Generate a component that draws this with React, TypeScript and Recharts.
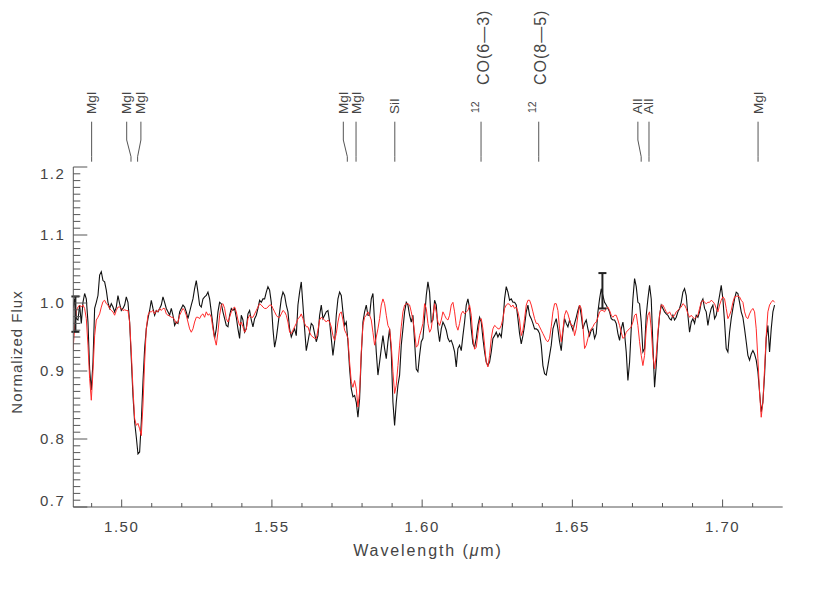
import React from 'react';
import { ComposedChart, Line, XAxis, YAxis, Scatter, ErrorBar, ReferenceLine } from 'recharts';

// Spectrum sampling grid (microns)
const WL_START = 1.48379;
const WL_STEP = 0.00055463;

// Observed normalized flux (black)
const observedFlux = [
  0.992,1.006,0.977,0.975,0.997,0.970,1.001,1.014,1.006,0.972,
  0.903,0.872,0.913,0.992,1.001,1.011,1.041,1.046,1.033,1.031,
  1.019,1.001,0.992,0.999,0.994,0.987,0.994,1.011,0.999,0.989,
  0.992,0.997,1.009,1.001,0.972,0.918,0.864,0.825,0.803,0.778,
  0.781,0.825,0.884,0.933,0.962,0.977,0.989,1.004,0.992,0.982,
  0.989,0.987,0.992,0.997,1.009,1.001,0.992,0.987,0.982,0.992,
  0.982,0.967,0.972,0.970,0.987,0.992,0.997,0.994,0.987,0.977,
  0.987,0.997,1.006,1.021,1.033,1.016,0.997,0.994,1.006,1.009,
  1.011,1.016,1.006,0.987,0.967,0.948,0.962,0.987,1.001,0.999,
  0.987,0.977,0.967,0.965,0.982,0.992,0.989,0.992,0.979,0.962,
  0.948,0.982,0.975,0.957,0.962,0.984,0.989,0.975,0.965,0.977,
  0.982,0.992,1.004,1.001,1.006,1.006,1.016,1.024,1.019,1.001,
  0.962,0.935,0.948,0.967,0.987,1.006,1.016,1.011,0.997,0.987,
  0.962,0.950,0.957,0.962,0.952,0.997,1.016,1.031,0.997,0.962,
  0.930,0.943,0.957,0.970,0.967,0.955,0.943,0.952,0.982,0.997,
  0.977,0.982,0.987,0.989,0.972,0.948,0.923,0.943,0.982,1.006,
  1.016,1.011,0.987,0.967,0.972,0.943,0.903,0.874,0.862,0.864,
  0.854,0.832,0.859,0.923,0.972,0.987,0.997,0.982,0.982,1.006,
  1.014,0.972,0.928,0.894,0.913,0.933,0.952,0.933,0.918,0.943,
  0.962,0.928,0.854,0.820,0.854,0.879,0.894,0.938,0.962,0.987,
  1.001,0.997,0.982,0.972,0.982,0.943,0.903,0.899,0.923,0.943,
  0.948,
  0.979,1.011,1.031,1.016,0.972,0.975,1.004,0.997,0.962,0.943,
  0.962,0.972,0.967,0.960,0.948,0.943,0.945,0.938,0.928,0.906,
  0.933,0.938,0.930,0.952,0.972,0.997,1.006,0.992,0.962,0.940,
  0.935,0.948,0.967,0.979,0.972,0.948,0.928,0.913,0.908,0.913,
  0.928,0.948,0.952,0.957,0.950,0.955,0.950,0.972,1.006,1.024,
  1.016,1.004,1.006,1.001,1.001,0.997,0.977,0.955,0.940,0.952,
  0.967,0.987,0.997,0.982,0.977,0.970,0.962,0.962,0.960,0.955,
  0.938,0.908,0.896,0.894,0.908,0.923,0.938,0.962,0.970,0.977,
  0.962,0.943,0.930,0.957,0.977,0.970,0.965,0.975,0.967,0.960,
  0.970,0.979,0.989,0.997,0.982,0.962,0.970,0.975,0.962,0.952,
  0.960,0.962,0.948,0.955,0.987,1.006,1.021,1.011,1.001,0.997,
  0.992,0.987,0.977,0.975,0.975,0.970,0.955,0.945,0.962,0.972,
  0.955,0.928,0.886,0.913,0.962,1.006,1.036,1.024,1.001,0.999,
  0.972,0.928,0.933,0.982,1.006,1.026,1.006,0.938,0.876,0.908,
  0.952,0.982,0.997,0.992,0.987,0.984,0.982,0.977,0.975,0.982,
  0.975,0.979,0.987,0.992,1.001,1.016,1.021,1.011,0.982,0.957,
  0.972,0.977,0.970,0.982,0.979,0.987,1.001,1.006,0.992,0.987,
  0.967,0.982,0.992,0.997,0.977,0.982,0.997,1.011,1.026,1.006,
  0.972,0.933,0.928,0.957,0.977,0.992,1.006,1.016,1.014,1.001,
  0.987,0.979,0.962,0.943,0.923,0.916,0.925,0.930,0.925,0.916,
  0.899,0.869,0.840,0.854,0.894,0.948,0.967,0.928,0.962,0.987,
  0.997,
];

// Model normalized flux (red)
const modelFlux = [
  0.931,0.962,0.989,0.994,0.997,0.994,0.997,0.992,0.977,0.938,
  0.889,0.857,0.899,0.952,0.975,0.979,0.984,0.994,1.002,1.004,
  0.999,0.997,0.992,0.989,0.987,0.982,0.989,0.994,0.994,0.992,
  0.989,0.990,0.989,0.989,0.972,0.928,0.874,0.830,0.820,0.823,
  0.815,0.805,0.850,0.913,0.962,0.982,0.987,0.987,0.989,0.984,
  0.989,0.987,0.992,0.989,0.992,0.992,0.984,0.982,0.981,0.979,
  0.979,0.975,0.970,0.972,0.982,0.987,0.992,0.989,0.982,0.972,
  0.962,0.957,0.962,0.972,0.979,0.979,0.977,0.982,0.984,0.979,
  0.987,0.982,0.984,0.979,0.962,0.948,0.938,0.957,0.982,0.997,
  0.999,0.992,0.977,0.972,0.979,0.987,0.992,0.994,0.987,0.975,
  0.967,0.972,0.965,0.957,0.962,0.977,0.982,0.979,0.979,0.984,
  0.989,0.994,0.999,0.997,0.994,0.992,0.992,0.994,0.997,0.997,
  0.992,0.987,0.982,0.979,0.979,0.984,0.989,0.987,0.982,0.972,
  0.957,0.955,0.960,0.965,0.970,0.977,0.979,0.984,0.977,0.970,
  0.965,0.965,0.957,0.952,0.950,0.948,0.948,0.960,0.975,0.979,
  0.977,0.975,0.972,0.975,0.972,0.965,0.952,0.945,0.955,0.972,
  0.984,0.987,0.975,0.960,0.955,0.948,0.913,0.884,0.876,0.886,
  0.874,0.847,0.869,0.928,0.967,0.979,0.982,0.987,0.982,0.975,
  0.957,0.938,0.950,0.962,0.977,0.997,1.006,0.999,0.982,0.967,
  0.962,0.938,0.899,0.867,0.879,0.908,0.938,0.965,0.987,0.997,
  0.999,0.999,0.997,0.987,0.975,0.957,0.935,0.938,0.952,0.960,
  0.970,
  0.999,0.992,0.970,0.957,0.962,0.982,0.999,0.987,0.972,0.967,
  0.975,0.987,0.982,0.977,0.975,0.982,0.997,1.001,0.987,0.967,
  0.960,0.970,0.984,0.988,0.984,0.987,0.989,0.997,0.982,0.948,
  0.932,0.935,0.955,0.975,0.977,0.962,0.938,0.913,0.906,0.923,
  0.948,0.962,0.967,0.965,0.962,0.962,0.967,0.977,0.992,0.997,
  0.999,0.998,0.994,0.997,0.992,0.994,0.987,0.975,0.952,0.960,
  0.977,0.997,1.004,1.004,0.997,0.987,0.977,0.970,0.970,0.965,
  0.960,0.955,0.950,0.945,0.943,0.948,0.965,0.987,0.999,0.999,
  0.989,0.962,0.943,0.960,0.982,0.989,0.984,0.975,0.967,0.967,
  0.952,0.962,0.982,0.997,0.992,0.967,0.933,0.938,0.948,0.957,
  0.962,0.965,0.970,0.972,0.979,0.987,0.989,0.989,0.987,0.992,
  0.994,0.989,0.982,0.979,0.982,0.982,0.975,0.967,0.957,0.948,
  0.950,0.957,0.960,0.962,0.965,0.972,0.982,0.984,0.967,0.943,
  0.923,0.908,0.923,0.962,0.982,0.987,0.962,0.923,0.903,0.923,
  0.957,0.982,0.997,0.997,0.992,0.987,0.984,0.987,0.982,0.979,
  0.982,0.987,0.989,0.992,0.994,0.999,0.997,0.992,0.984,0.979,
  0.982,0.979,0.977,0.979,0.982,0.992,1.001,1.004,1.001,0.999,
  1.001,1.001,1.004,1.002,0.999,0.992,0.987,0.997,1.004,1.009,
  1.006,0.992,0.977,0.982,0.989,1.001,1.009,1.010,1.010,1.009,
  1.004,1.001,0.987,0.979,0.977,0.984,0.989,0.992,0.987,0.962,
  0.918,0.869,0.832,0.854,0.903,0.952,0.987,0.997,1.001,1.004,
  1.001,
];

// Representative error bars
const errorBarWl = [1.4846, 1.66];
const errorBarFlux = [0.9836, 1.018];
const errorBarSize = [0.026, 0.026];

// Line identifications
const lineWl = [1.4900, 1.5031, 1.5053, 1.5751, 1.5780, 1.5909, 1.6196, 1.6388, 1.6729, 1.6755, 1.7118];
const lineLabel = ['MgI', 'MgI', 'MgI', 'MgI', 'MgI', 'SiI', 'CO(6\u20143)', 'CO(8\u20145)', 'AlI', 'AlI', 'MgI'];
const lineIso = ['', '', '', '', '', '', '12', '12', '', '', ''];

// Axis ticks
const xTickValues = [1.49,1.50,1.51,1.52,1.53,1.54,1.55,1.56,1.57,1.58,1.59,1.60,1.61,1.62,1.63,1.64,1.65,1.66,1.67,1.68,1.69,1.70,1.71];
const yMajorTicks = [0.7, 0.8, 0.9, 1.0, 1.1, 1.2];

// ---- layout / style ----
const X_DOMAIN = [1.4839, 1.72];
const Y_DOMAIN = [0.7, 1.2];
const AXIS = '#555';
const TEXT = '#444';
const FONT = '"Liberation Sans", Arial, sans-serif';
// label splay offsets (px) for blended line pairs
const lineDx = [0, -4.3, 3.3, -4, 0, 0, 0, 0, -3.3, 0, 0];

const yTickValues = Array.from({ length: 51 }, (_, i) => Math.round((0.7 + i * 0.01) * 100) / 100);

const spectrum = observedFlux.map((f, i) => ({
  wl: WL_START + i * WL_STEP,
  obs: f,
  model: modelFlux[i],
}));

const errorData = errorBarWl.map((wl, i) => ({ wl, flux: errorBarFlux[i], err: errorBarSize[i] }));

const isMajorX = (v: number) => Math.abs(v * 20 - Math.round(v * 20)) < 1e-6;
const isMajorY = (v: number) => yMajorTicks.some((m) => Math.abs(m - v) < 1e-6);

const tickText = { fontFamily: FONT, fontSize: 15, fill: TEXT, letterSpacing: 1.5 } as const;

function BottomTick(props: any) {
  const { x, y, payload } = props;
  const major = isMajorX(payload.value);
  return (
    <g>
      <line x1={x} x2={x} y1={y} y2={y - (major ? 7.5 : 4)} stroke={AXIS} />
      {major && (
        <text x={x} y={y + 20} dy="0.35em" textAnchor="middle" style={tickText}>
          {payload.value.toFixed(2)}
        </text>
      )}
    </g>
  );
}

function TopTick(props: any) {
  const { x, y, payload } = props;
  const major = isMajorX(payload.value);
  return <line x1={x} x2={x} y1={y} y2={y + (major ? 7.5 : 4)} stroke={AXIS} />;
}

function LeftTick(props: any) {
  const { x, y, payload } = props;
  const v = payload.value;
  const major = isMajorY(v);
  let ly = y;
  if (Math.abs(v - 1.2) < 1e-6) ly = y + 7;
  if (Math.abs(v - 0.7) < 1e-6) ly = y - 6;
  return (
    <g>
      <line x1={x} x2={x + (major ? 14 : 7)} y1={y} y2={y} stroke={AXIS} />
      {major && (
        <text x={x - 8} y={ly} dy="0.35em" textAnchor="end" style={tickText}>
          {v.toFixed(1)}
        </text>
      )}
    </g>
  );
}

function RightTick(props: any) {
  const { x, y, payload } = props;
  const major = isMajorY(payload.value);
  return <line x1={x} x2={x - (major ? 14 : 7)} y1={y} y2={y} stroke={AXIS} />;
}

function LineIdMark({ p, idx }: { p: any; idx: number }) {
  const x = p.x1;
  const top = Math.min(p.y1, p.y2);
  const lx = x + lineDx[idx];
  const d = `M${lx},${top - 45.3} L${lx},${top - 27} L${x},${top - 10.3} L${x},${top - 5.3}`;
  const iso = lineIso[idx];
  return (
    <g>
      <path d={d} stroke={AXIS} strokeWidth={1} fill="none" />
      {iso ? (
        <g>
          <text
            transform={`translate(${lx + 2},${top - 82}) rotate(-90)`}
            textAnchor="start"
            dominantBaseline="central"
            style={{ fontFamily: FONT, fontSize: 16, fill: TEXT, letterSpacing: 1 }}
          >
            {lineLabel[idx]}
          </text>
          <text
            transform={`translate(${lx - 6.5},${top - 54}) rotate(-90)`}
            textAnchor="start"
            dominantBaseline="central"
            style={{ fontFamily: FONT, fontSize: 10.5, fill: TEXT }}
          >
            {iso}
          </text>
        </g>
      ) : (
        <text
          transform={`translate(${lx},${top - 53}) rotate(-90)`}
          textAnchor="start"
          dominantBaseline="central"
          style={{ fontFamily: FONT, fontSize: 13.5, fill: TEXT }}
        >
          {lineLabel[idx]}
        </text>
      )}
    </g>
  );
}

function XTitle(props: any) {
  const vb = props.viewBox || {};
  return (
    <text
      x={vb.x + vb.width / 2}
      y={vb.y + 43}
      dy="0.35em"
      textAnchor="middle"
      style={{ fontFamily: FONT, fontSize: 16, fill: TEXT, letterSpacing: 1.9 }}
    >
      Wavelength (<tspan fontStyle="italic">{'\u03bc'}</tspan>m)
    </text>
  );
}

function YTitle(props: any) {
  const vb = props.viewBox || {};
  const cy = vb.y + vb.height / 2 + 15;
  return (
    <text
      transform={`translate(8.5,${cy}) rotate(-90)`}
      textAnchor="middle"
      dominantBaseline="central"
      style={{ fontFamily: FONT, fontSize: 15, fill: TEXT, letterSpacing: 1 }}
    >
      Normalized Flux
    </text>
  );
}

export default function App() {
  return (
    <ComposedChart
      width={814}
      height={588}
      data={spectrum}
      margin={{ top: 159, right: 39.3, bottom: 29, left: 5.3 }}
    >
      <XAxis
        dataKey="wl"
        type="number"
        domain={X_DOMAIN}
        allowDataOverflow
        ticks={xTickValues}
        interval={0}
        tickSize={0}
        tickMargin={0}
        height={60}
        axisLine={{ stroke: AXIS }}
        tickLine={false}
        tick={<BottomTick />}
        label={{ content: (p: any) => <XTitle {...p} /> }}
      />
      <XAxis
        xAxisId="top"
        orientation="top"
        dataKey="wl"
        type="number"
        domain={X_DOMAIN}
        allowDataOverflow
        ticks={xTickValues}
        interval={0}
        tickSize={0}
        tickMargin={0}
        height={0}
        axisLine={{ stroke: AXIS }}
        tickLine={false}
        tick={<TopTick />}
      />
      <YAxis
        type="number"
        domain={Y_DOMAIN}
        allowDataOverflow
        ticks={yTickValues}
        interval={0}
        tickSize={0}
        tickMargin={0}
        width={60}
        axisLine={{ stroke: AXIS }}
        tickLine={false}
        tick={<LeftTick />}
        label={{ content: (p: any) => <YTitle {...p} /> }}
      />
      <YAxis
        yAxisId="right"
        orientation="right"
        type="number"
        domain={Y_DOMAIN}
        allowDataOverflow
        ticks={yTickValues}
        interval={0}
        tickSize={0}
        tickMargin={0}
        width={0}
        axisLine={{ stroke: AXIS }}
        tickLine={false}
        tick={<RightTick />}
      />
      <Line
        dataKey="obs"
        type="linear"
        stroke="#111"
        strokeWidth={1.1}
        dot={false}
        activeDot={false}
        isAnimationActive={false}
      />
      <Line
        dataKey="model"
        type="linear"
        stroke="#ff2a2a"
        strokeWidth={1}
        dot={false}
        activeDot={false}
        isAnimationActive={false}
      />
      <Scatter data={errorData} dataKey="flux" shape={() => <g />} isAnimationActive={false}>
        <ErrorBar dataKey="err" direction="y" width={4} stroke="#222" strokeWidth={2} isAnimationActive={false} />
      </Scatter>
      {lineWl.map((wl, i) => (
        <ReferenceLine
          key={`id-${i}`}
          x={wl}
          ifOverflow="visible"
          shape={(p: any) => <LineIdMark p={p} idx={i} />}
        />
      ))}
    </ComposedChart>
  );
}
